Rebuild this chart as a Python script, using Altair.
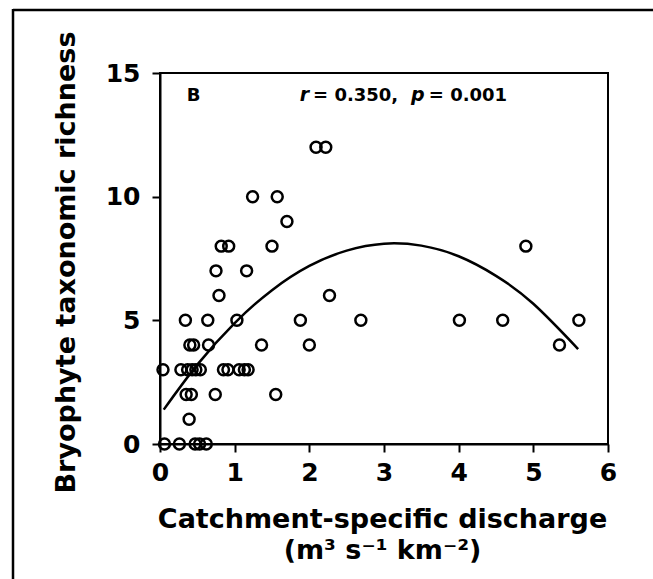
import altair as alt
import pandas as pd

# Observed sites: catchment-specific discharge vs bryophyte taxonomic richness
discharge = [
    0.06, 0.26, 0.47, 0.53, 0.62,                      # richness 0
    0.39,                                              # 1
    0.35, 0.42, 0.74, 1.55,                            # 2
    0.04, 0.28, 0.37, 0.43, 0.48, 0.54, 0.85, 0.91, 1.06, 1.13, 1.18,  # 3
    0.40, 0.45, 0.65, 1.36, 2.00, 5.35,                # 4
    0.34, 0.64, 1.03, 1.88, 2.69, 4.01, 4.59, 5.61,    # 5
    0.79, 2.27,                                        # 6
    0.75, 1.16,                                        # 7
    0.82, 0.92, 1.50, 4.90,                            # 8
    1.70,                                              # 9
    1.24, 1.57,                                        # 10
    2.09, 2.22,                                        # 12
]
richness = (
    [0] * 5 + [1] * 1 + [2] * 4 + [3] * 11 + [4] * 6 + [5] * 8
    + [6] * 2 + [7] * 2 + [8] * 4 + [9] * 1 + [10] * 2 + [12] * 2
)

# Fitted quadratic trend, sampled along the discharge range
fit_x = [0.05, 0.5, 1.0, 1.5, 2.0, 2.5, 3.0, 3.5, 4.0, 4.5, 5.0, 5.6]
fit_y = [1.39, 3.21, 4.89, 6.22, 7.20, 7.82, 8.10, 8.02, 7.59, 6.80, 5.67, 3.84]

x_ticks = [0, 1, 2, 3, 4, 5, 6]
y_ticks = [0, 5, 10, 15]

# Panel letter and statistics text (plain and italic pieces)
panel_letter = "B"
panel_x = 0.45
stat_text = ["= 0.350,", "= 0.001"]
stat_x = [2.05, 3.60]
italic_text = ["r", "p"]
italic_x = [1.87, 3.36]
note_y = 13.85

FONT = "DejaVu Sans"

points = pd.DataFrame({"q": discharge, "s": richness})
fit = pd.DataFrame({"q": fit_x, "s": fit_y})
letter = pd.DataFrame({"t": [panel_letter], "q": [panel_x], "s": [note_y]})
stats = pd.DataFrame({"t": stat_text, "q": stat_x, "s": [note_y] * 2})
italics = pd.DataFrame({"t": italic_text, "q": italic_x, "s": [note_y] * 2})

x_scale = alt.Scale(domain=[0, 6], nice=False, zero=False)
y_scale = alt.Scale(domain=[0, 15], nice=False, zero=False)

x_axis = alt.Axis(
    values=x_ticks, format="d", grid=False,
    domainColor="black", domainWidth=2, tickColor="black", tickWidth=2, tickSize=8,
    labelFont=FONT, labelFontWeight="bold", labelFontSize=25, labelColor="black",
    labelPadding=8, labelFlush=False,
    title=["Catchment-specific discharge", "(m³ s⁻¹  km⁻²)"],
    titleFont=FONT, titleFontWeight="bold", titleFontSize=27, titleColor="black",
    titleLineHeight=31, titleBaseline="alphabetic", titleAlign="center",
    titleX=222, titleY=83,
)
y_axis = alt.Axis(
    values=y_ticks, format="d", grid=False,
    domainColor="black", domainWidth=2, tickColor="black", tickWidth=2, tickSize=8,
    labelFont=FONT, labelFontWeight="bold", labelFontSize=25, labelColor="black",
    labelPadding=12, labelFlush=False,
    title="Bryophyte taxonomic richness",
    titleFont=FONT, titleFontWeight="bold", titleFontSize=27, titleColor="black",
    titleAngle=-90, titleBaseline="alphabetic", titleAlign="center",
    titleX=-86, titleY=189,
)

scatter = alt.Chart(points).mark_point(
    shape="circle", filled=False, color="black", size=120, strokeWidth=2.5, opacity=1
).encode(
    x=alt.X("q:Q", scale=x_scale, axis=x_axis),
    y=alt.Y("s:Q", scale=y_scale, axis=y_axis),
)

trend = alt.Chart(fit).mark_line(
    color="black", strokeWidth=2.5, interpolate="natural"
).encode(x=alt.X("q:Q", scale=x_scale), y=alt.Y("s:Q", scale=y_scale))

note_b = alt.Chart(letter).mark_text(
    font=FONT, fontWeight="bold", fontSize=18, color="black",
    baseline="alphabetic", align="center"
).encode(x=alt.X("q:Q", scale=x_scale), y=alt.Y("s:Q", scale=y_scale), text="t:N")
note_stats = alt.Chart(stats).mark_text(
    font=FONT, fontWeight="bold", fontSize=18, color="black",
    baseline="alphabetic", align="left"
).encode(x=alt.X("q:Q", scale=x_scale), y=alt.Y("s:Q", scale=y_scale), text="t:N")
note_italic = alt.Chart(italics).mark_text(
    font=FONT, fontWeight="bold", fontStyle="italic", fontSize=19, color="black",
    baseline="alphabetic", align="left"
).encode(x=alt.X("q:Q", scale=x_scale), y=alt.Y("s:Q", scale=y_scale), text="t:N")

# Page frame: top and left edges
one = alt.Data(values=[{"k": 1}])
frame_top = alt.Chart(one).mark_rule(color="black", strokeWidth=2.5).encode(
    x=alt.value(-147), x2=alt.value(500), y=alt.value(-63)
)
frame_left = alt.Chart(one).mark_rule(color="black", strokeWidth=2.5).encode(
    x=alt.value(-147), y=alt.value(-64), y2=alt.value(520)
)

chart = alt.layer(
    frame_top, frame_left, trend, scatter, note_b, note_stats, note_italic
).properties(
    width=448, height=371,
    padding={"left": 160, "top": 73, "right": 45, "bottom": 135},
    autosize=alt.AutoSizeParams(type="none"),
    background="white",
).configure_view(stroke="black", strokeWidth=2)

chart.save("out.html", embed_options={"renderer": "svg", "actions": False})
